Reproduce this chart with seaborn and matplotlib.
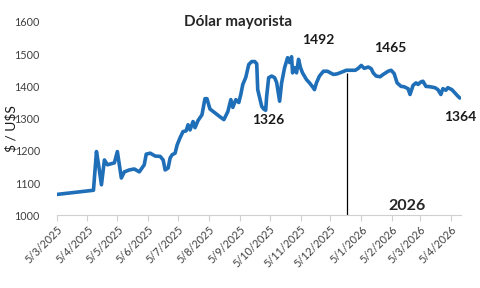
import pandas as pd
import matplotlib.pyplot as plt
import seaborn as sns

# Daily wholesale dollar rate
dates = [
    "2025-03-05", "2025-04-11", "2025-04-14", "2025-04-16", "2025-04-19", "2025-04-22",
    "2025-04-25", "2025-05-02", "2025-05-05", "2025-05-09", "2025-05-12", "2025-05-17",
    "2025-05-22", "2025-05-27", "2025-06-01", "2025-06-03", "2025-06-07", "2025-06-12",
    "2025-06-17", "2025-06-20", "2025-06-22", "2025-06-25", "2025-06-27", "2025-06-29",
    "2025-07-02", "2025-07-04", "2025-07-07", "2025-07-10", "2025-07-13", "2025-07-15",
    "2025-07-17", "2025-07-20", "2025-07-22", "2025-07-25", "2025-07-29", "2025-08-01",
    "2025-08-03", "2025-08-06", "2025-08-11", "2025-08-16", "2025-08-20", "2025-08-24",
    "2025-08-27", "2025-08-29", "2025-09-01", "2025-09-04", "2025-09-06", "2025-09-08",
    "2025-09-11", "2025-09-14", "2025-09-17", "2025-09-20", "2025-09-22", "2025-09-23",
    "2025-09-27", "2025-09-29", "2025-10-01", "2025-10-02", "2025-10-04", "2025-10-07",
    "2025-10-10", "2025-10-12", "2025-10-15", "2025-10-17", "2025-10-20", "2025-10-23",
    "2025-10-25", "2025-10-27", "2025-10-28", "2025-10-30", "2025-11-01", "2025-11-03",
    "2025-11-05", "2025-11-07", "2025-11-11", "2025-11-14", "2025-11-18", "2025-11-19",
    "2025-11-21", "2025-11-24", "2025-11-28", "2025-12-02", "2025-12-05", "2025-12-08",
    "2025-12-12", "2025-12-17", "2025-12-21", "2025-12-26", "2025-12-30", "2026-01-02",
    "2026-01-05", "2026-01-08", "2026-01-12", "2026-01-15", "2026-01-17", "2026-01-20",
    "2026-01-24", "2026-01-27", "2026-02-01", "2026-02-04", "2026-02-07", "2026-02-10",
    "2026-02-14", "2026-02-17", "2026-02-21", "2026-02-23", "2026-02-26", "2026-03-01",
    "2026-03-03", "2026-03-06", "2026-03-08", "2026-03-11", "2026-03-15", "2026-03-20",
    "2026-03-23", "2026-03-26", "2026-03-28", "2026-03-31", "2026-04-02", "2026-04-06",
    "2026-04-09", "2026-04-12", "2026-04-14",
]
rates = [
    1065, 1078, 1198, 1160, 1095, 1172,
    1157, 1163, 1198, 1116, 1135, 1141,
    1144, 1135, 1157, 1190, 1193, 1184,
    1183, 1172, 1141, 1147, 1178, 1188,
    1193, 1218, 1241, 1260, 1262, 1281,
    1265, 1291, 1272, 1294, 1312, 1362,
    1362, 1330, 1318, 1306, 1297, 1322,
    1359, 1335, 1359, 1350, 1375, 1406,
    1428, 1468, 1477, 1477, 1470, 1390,
    1338, 1330, 1326, 1370, 1427, 1432,
    1427, 1412, 1354, 1411, 1458, 1489,
    1474, 1492, 1442, 1458, 1442, 1484,
    1458, 1442, 1421, 1411, 1395, 1390,
    1411, 1432, 1447, 1447, 1442, 1437,
    1439, 1445, 1450, 1450, 1450, 1456,
    1465, 1456, 1460, 1455, 1442, 1432,
    1430, 1437, 1447, 1450, 1440, 1411,
    1400, 1399, 1393, 1375, 1403, 1411,
    1406, 1414, 1416, 1400, 1399, 1396,
    1390, 1375, 1393, 1388, 1396, 1390,
    1380, 1370, 1364,
]

# Callouts: label text, anchor date, anchor value
note_labels = ["1492", "1465", "1326", "1364"]
note_dates = ["2025-11-23", "2026-02-03", "2025-10-04", "2026-04-14"]
note_values = [1543, 1518, 1297, 1306]

year_mark_date = "2025-12-22"
year_label = "2026"

df = pd.DataFrame({"fecha": pd.to_datetime(dates), "tc": rates})

sns.set_style("white")
plt.rcParams["font.family"] = ["Lato", "DejaVu Sans"]

fig = plt.figure(figsize=(4.8, 2.88), dpi=100)
ax = fig.add_axes([0.118, 0.252, 0.842, 0.672])

sns.lineplot(data=df, x="fecha", y="tc", color="#1F6EB8", linewidth=2.6, ax=ax)

# vertical marker for the new year
ax.vlines(pd.Timestamp(year_mark_date), 1000, 1440, color="black", linewidth=0.9)
ax.text(pd.Timestamp("2026-02-20"), 1030, year_label, fontsize=11.5,
        fontweight="bold", ha="center", va="center")

for lab, d, v in zip(note_labels, note_dates, note_values):
    ax.text(pd.Timestamp(d), v, lab, fontsize=10, fontweight="bold",
            ha="center", va="center", color="#1a1a1a")

ax.set_ylim(1000, 1600)
ax.set_yticks(range(1000, 1601, 100))
ax.set_xlim(pd.Timestamp("2025-03-05"), pd.Timestamp("2026-04-15"))

ticks = pd.date_range("2025-03-01", "2026-04-01", freq="MS") + pd.Timedelta(days=4)
ax.set_xticks(ticks)
ax.set_xticklabels([f"{t.day}/{t.month}/{t.year}" for t in ticks], rotation=45,
                   ha="right", rotation_mode="anchor", fontsize=7.8, color="#404040")
ax.tick_params(axis="y", labelsize=7.8, labelcolor="#404040", length=0, pad=12)
ax.tick_params(axis="x", length=4, color="#d0d0d0", width=0.8, direction="out",
               bottom=True, pad=2)

for s in ["left", "right", "top"]:
    ax.spines[s].set_visible(False)
ax.spines["bottom"].set_color("#d0d0d0")
ax.spines["bottom"].set_linewidth(0.8)

ax.set_xlabel("")
ax.set_ylabel(r"\$ / U\$S", fontsize=10, color="#1a1a1a")
ax.yaxis.set_label_coords(-0.098, 0.45)

fig.text(0.497, 0.925, "Dólar mayorista", fontsize=11, fontweight="bold",
         ha="center", va="center")

fig.savefig("out.png", dpi=100)
